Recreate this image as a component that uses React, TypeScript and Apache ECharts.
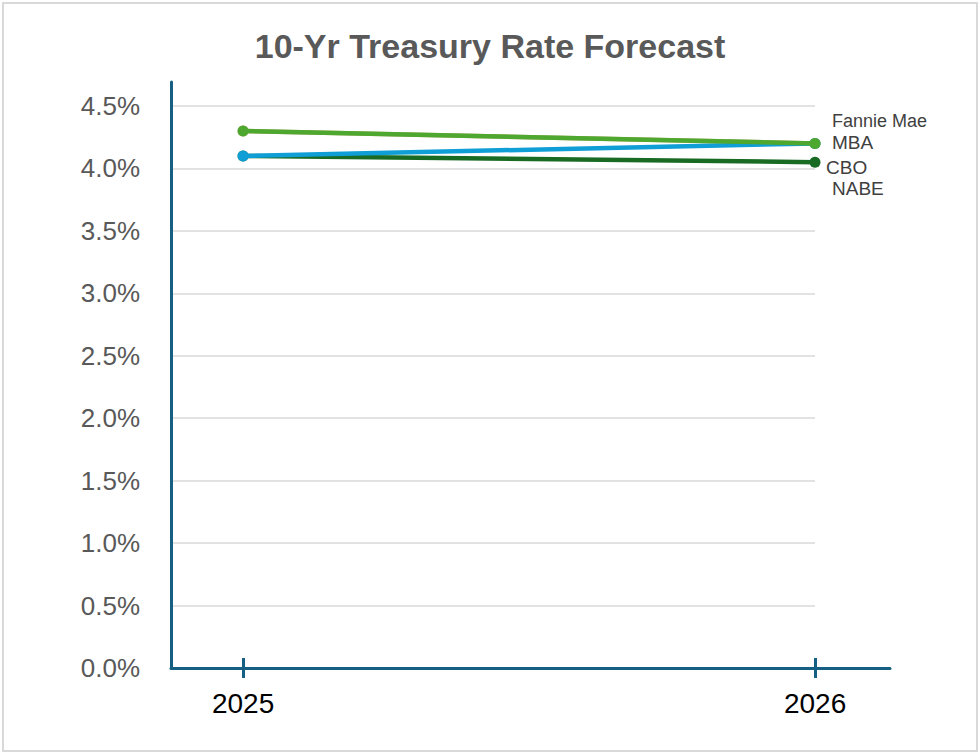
import React, { useEffect, useRef } from "react";
import * as echarts from "echarts";

const years = [2025, 2026];
const fannieMae = [4.3, 4.2];
const mba = [4.3, 4.2];
const cbo = [4.1, 4.05];
const nabe = [4.1, 4.2];
const yTicks = [0, 0.5, 1.0, 1.5, 2.0, 2.5, 3.0, 3.5, 4.0, 4.5];

const AXIS = "#156082";
const FONT = '"Liberation Sans", Arial, sans-serif';
const X_MIN = 2024.874;

function mk(name: string, vals: number[], color: string, z: number, fontSize: number, offset: number[]) {
  return {
    name,
    type: "line",
    xAxisIndex: 0,
    yAxisIndex: 0,
    z,
    data: years.map((y, i) => [y, vals[i]]),
    symbol: "circle",
    symbolSize: 11,
    lineStyle: { color, width: 4.5 },
    itemStyle: { color },
    endLabel: {
      show: true,
      formatter: "{a}",
      color: "#404040",
      fontSize,
      fontFamily: FONT,
      offset,
    },
  };
}

export default function App() {
  const ref = useRef<HTMLDivElement>(null);
  useEffect(() => {
    document.body.style.margin = "0";
    const chart = echarts.init(ref.current!, null, { renderer: "svg" });
    chart.setOption({
      animation: false,
      backgroundColor: "#ffffff",
      title: {
        text: "10-Yr Treasury Rate Forecast",
        left: "center",
        top: 24,
        textStyle: {
          fontSize: 34,
          fontWeight: "bold",
          color: "#595959",
          fontFamily: FONT,
        },
      },
      graphic: [
        {
          type: "rect",
          shape: { x: 3, y: 3, width: 974, height: 748 },
          style: { fill: "none", stroke: "#D9D9D9", lineWidth: 2 },
          silent: true,
        },
      ],
      grid: [
        { left: 171, top: 82, width: 644, height: 586 },
        { left: 171, top: 82, width: 719, height: 586 },
      ],
      xAxis: [
        {
          gridIndex: 0,
          type: "value",
          min: X_MIN,
          max: 2026,
          axisLine: { show: false },
          axisTick: {
            show: true,
            inside: true,
            length: 10,
            customValues: years,
            lineStyle: { color: AXIS, width: 3 },
          },
          axisLabel: { show: false },
          splitLine: { show: false },
        },
        {
          gridIndex: 1,
          type: "value",
          min: X_MIN,
          max: 2026.131,
          axisLine: { show: true, lineStyle: { color: AXIS, width: 3 } },
          axisTick: {
            show: true,
            length: 10,
            customValues: years,
            lineStyle: { color: AXIS, width: 3 },
          },
          axisLabel: {
            customValues: years,
            formatter: (v: number) => String(v),
            fontSize: 28,
            color: "#000000",
            fontFamily: FONT,
            margin: 21,
          },
          splitLine: { show: false },
        },
      ],
      yAxis: [
        {
          gridIndex: 0,
          type: "value",
          min: 0,
          max: 4.692,
          axisLine: { show: true, lineStyle: { color: AXIS, width: 3 } },
          axisTick: { show: false, customValues: yTicks },
          axisLabel: {
            customValues: yTicks,
            formatter: (v: number) => v.toFixed(1) + "%",
            fontSize: 26,
            color: "#595959",
            fontFamily: FONT,
            margin: 31,
          },
          splitLine: { show: true, lineStyle: { color: "#D9D9D9", width: 1.5 } },
        },
        {
          gridIndex: 1,
          type: "value",
          min: 0,
          max: 4.692,
          show: false,
        },
      ],
      series: [
        mk("Fannie Mae", fannieMae, "#BDB07A", 2, 18, [9, -22]),
        mk("CBO", cbo, "#196B24", 3, 19, [3, 5]),
        mk("NABE", nabe, "#0F9ED5", 4, 19, [9, 45]),
        mk("MBA", mba, "#4EA72E", 5, 19, [9, -1]),
      ],
    });
    return () => chart.dispose();
  }, []);
  return <div ref={ref} style={{ width: 980, height: 754 }} />;
}
